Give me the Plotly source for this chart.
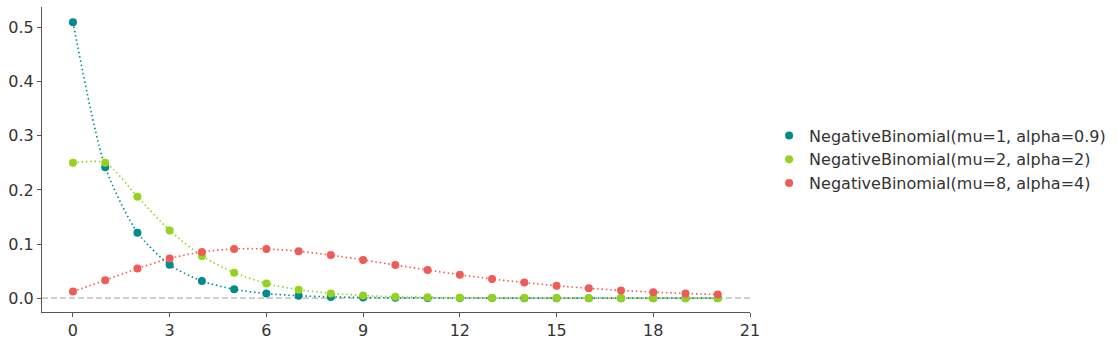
import plotly.graph_objects as go

x_vals = list(range(21))

nb1_label = "NegativeBinomial(mu=1, alpha=0.9)"
nb1_vals = [0.510, 0.242, 0.121, 0.0615, 0.0316, 0.0163, 0.0084, 0.0044, 0.0023, 0.0012,
            0.0006, 0.0003, 0.0002, 0.0001, 0.0, 0.0, 0.0, 0.0, 0.0, 0.0, 0.0]

nb2_label = "NegativeBinomial(mu=2, alpha=2)"
nb2_vals = [0.250, 0.250, 0.1875, 0.125, 0.078, 0.047, 0.027, 0.0156, 0.0088, 0.0049,
            0.0027, 0.0015, 0.0008, 0.0004, 0.0002, 0.0001, 0.0, 0.0, 0.0, 0.0, 0.0]

nb3_label = "NegativeBinomial(mu=8, alpha=4)"
nb3_vals = [0.0123, 0.0329, 0.0549, 0.0732, 0.0854, 0.0910, 0.0910, 0.0867, 0.0795, 0.0707,
            0.0612, 0.0520, 0.0433, 0.0355, 0.0288, 0.0230, 0.0182, 0.0143, 0.0111, 0.0086, 0.0066]

x_ticks = [0, 3, 6, 9, 12, 15, 18, 21]
y_ticks = [0.0, 0.1, 0.2, 0.3, 0.4, 0.5]

series = [
    (nb1_label, nb1_vals, "#008b8d"),
    (nb2_label, nb2_vals, "#93d31e"),
    (nb3_label, nb3_vals, "#f05a57"),
]

fig = go.Figure()
for name, vals, col in series:
    fig.add_trace(go.Scatter(
        x=x_vals, y=vals, mode="lines",
        line=dict(color=col, width=1.6, dash="1.5px,2.8px", shape="spline", smoothing=0.7),
        showlegend=False, hoverinfo="skip"))
    fig.add_trace(go.Scatter(
        x=x_vals, y=vals, mode="markers", name=name,
        marker=dict(color=col, size=8)))

fig.add_shape(type="line", xref="paper", yref="y", x0=0, x1=1, y0=0, y1=0,
              line=dict(color="#c8c8c8", width=1.6, dash="6px,3px"), layer="below")

axis_common = dict(showgrid=False, zeroline=False, showline=True, linecolor="#555555", linewidth=1.2,
                   ticks="outside", ticklen=4, tickcolor="#555555",
                   tickfont=dict(family="DejaVu Sans", size=16, color="#333333"))

fig.update_layout(
    width=1118, height=347,
    margin=dict(l=42, r=364, t=7, b=32),
    paper_bgcolor="white", plot_bgcolor="white",
    font=dict(family="DejaVu Sans", size=16, color="#333333"),
    xaxis=dict(range=[-0.96, 21], tickvals=x_ticks, **axis_common),
    yaxis=dict(range=[-0.0256, 0.538], tickvals=y_ticks, tickformat=".1f", **axis_common),
    legend=dict(x=1.027, xanchor="left", y=0.5, yanchor="middle",
                font=dict(family="DejaVu Sans", size=16, color="#333333"),
                tracegroupgap=0, itemwidth=30, bgcolor="rgba(0,0,0,0)"),
)

fig.write_html("out.html")
